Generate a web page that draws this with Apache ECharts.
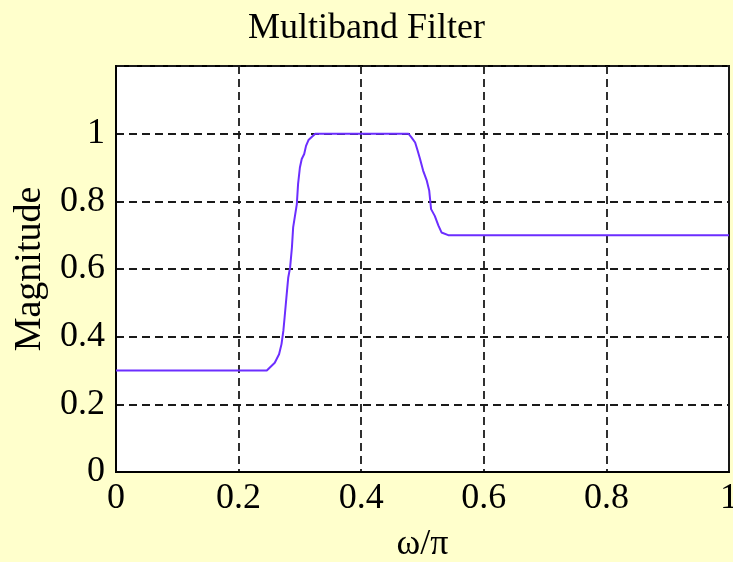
<!DOCTYPE html>
<html>
<head>
<meta charset="utf-8">
<script src="https://cdn.jsdelivr.net/npm/echarts@6/dist/echarts.min.js"></script>
<style>
html,body{margin:0;padding:0;background:#ffffcc;}
#chart{width:733px;height:562px;}
</style>
</head>
<body>
<div id="chart"></div>
<script>
var omega = [0, 0.246, 0.259, 0.266, 0.270, 0.273, 0.275, 0.278, 0.281, 0.284, 0.287, 0.289, 0.295, 0.297, 0.300, 0.303, 0.307, 0.310, 0.314, 0.325, 0.477, 0.482, 0.488, 0.492, 0.496, 0.501, 0.507, 0.511, 0.514, 0.520, 0.526, 0.531, 0.542, 1];
var magnitude = [0.3, 0.3, 0.323, 0.348, 0.378, 0.417, 0.456, 0.516, 0.575, 0.604, 0.664, 0.723, 0.792, 0.851, 0.900, 0.925, 0.940, 0.964, 0.981, 1.0, 1.0, 0.989, 0.974, 0.950, 0.925, 0.891, 0.861, 0.831, 0.777, 0.757, 0.728, 0.708, 0.7, 0.7];
var xTicks = [0, 0.2, 0.4, 0.6, 0.8, 1];
var yTicks = [0, 0.2, 0.4, 0.6, 0.8, 1];
var titleText = 'Multiband Filter';
var xName = 'ω/π';
var yName = 'Magnitude';

var pts = omega.map(function (w, i) { return [w, magnitude[i]]; });
var font = 'Liberation Serif';
var chart = echarts.init(document.getElementById('chart'));
var gridLine = { show: true, lineStyle: { color: '#1a1a1a', width: 1.8, type: [8, 5] } };
chart.setOption({
  backgroundColor: '#ffffcc',
  animation: false,
  title: {
    text: titleText, left: 'center', top: 6,
    textStyle: { fontFamily: font, fontSize: 36, fontWeight: 'normal', color: '#000' }
  },
  grid: {
    left: 116, right: 4, top: 66, bottom: 90, containLabel: false, outerBoundsMode: 'none',
    show: true, backgroundColor: '#fff', borderColor: '#000', borderWidth: 1.8
  },
  xAxis: {
    type: 'value', min: 0, max: 1, interval: 0.2,
    name: xName, nameLocation: 'middle', nameGap: 55,
    nameTextStyle: { fontFamily: font, fontSize: 36, color: '#000' },
    axisLine: { show: true, lineStyle: { color: '#000', width: 1.8 } },
    axisTick: { show: false },
    axisLabel: {
      fontFamily: font, fontSize: 36, color: '#000', margin: 9,
      formatter: function (v) { var r = Math.round(v * 10) / 10; return xTicks.indexOf(r) >= 0 ? String(r) : ''; }
    },
    splitLine: gridLine
  },
  yAxis: {
    type: 'value', min: 0, max: 1.2, interval: 0.2,
    name: yName, nameLocation: 'middle', nameGap: 66,
    nameTextStyle: { fontFamily: font, fontSize: 38, color: '#000' },
    axisLine: { show: true, lineStyle: { color: '#000', width: 1.8 } },
    axisTick: { show: false },
    axisLabel: {
      fontFamily: font, fontSize: 36, color: '#000', margin: 11,
      formatter: function (v) { var r = Math.round(v * 10) / 10; return yTicks.indexOf(r) >= 0 ? String(r) : ''; }
    },
    splitLine: gridLine
  },
  series: [{
    type: 'line', data: pts, showSymbol: false, symbol: 'none',
    lineStyle: { color: '#6c2eff', width: 2 }
  }]
});
</script>
</body>
</html>
